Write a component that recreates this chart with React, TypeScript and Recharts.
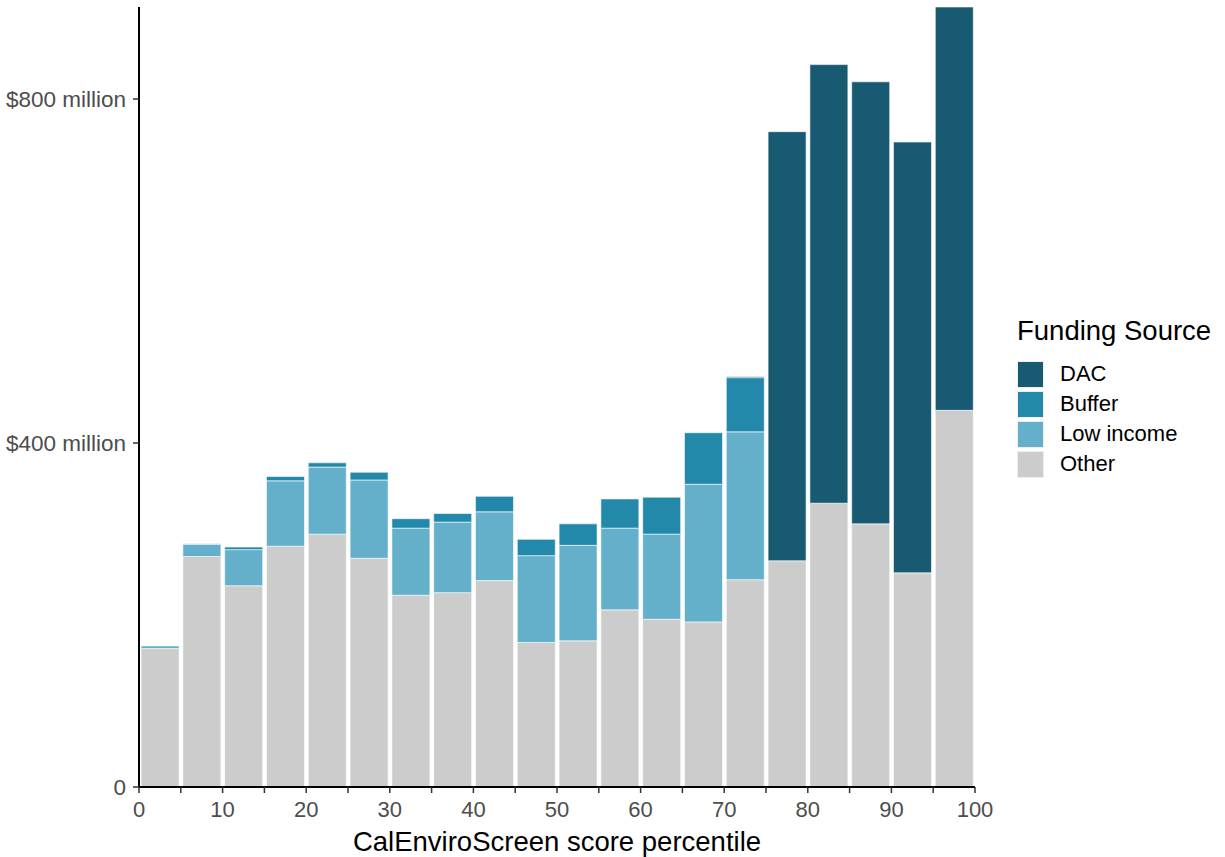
import { BarChart, Bar, XAxis, YAxis, Label } from 'recharts'

// percentile bins (start of each 5-point bin)
const binStarts = [0, 5, 10, 15, 20, 25, 30, 35, 40, 45, 50, 55, 60, 65, 70, 75, 80, 85, 90, 95]

// funding in $ millions
const other = [161, 268, 234, 280, 294, 266, 223, 226, 240, 168, 170, 206, 195, 192, 241, 263, 330, 306, 249, 438]
const lowIncome = [3, 14, 42, 76, 78, 91, 78, 82, 80, 101, 111, 95, 99, 160, 172, 0, 0, 0, 0, 0]
const buffer = [0, 1, 3, 5, 5, 9, 11, 10, 18, 19, 25, 34, 43, 60, 63, 0, 0, 0, 0, 0]
const dac = [0, 0, 0, 0, 0, 0, 0, 0, 0, 0, 0, 0, 0, 0, 1, 499, 510, 514, 501, 469]

const xTicks = [0, 5, 10, 15, 20, 25, 30, 35, 40, 45, 50, 55, 60, 65, 70, 75, 80, 85, 90, 95, 100]
const yTicks = [0, 400, 800]

const colors = {
  dac: '#175a71',
  buffer: '#2389ab',
  lowIncome: '#64afca',
  other: '#cccccc',
}

const legendItems = [
  { name: 'DAC', color: colors.dac },
  { name: 'Buffer', color: colors.buffer },
  { name: 'Low income', color: colors.lowIncome },
  { name: 'Other', color: colors.other },
]

const data = binStarts.map((s, i) => ({
  bin: s,
  other: other[i],
  lowIncome: lowIncome[i],
  buffer: buffer[i],
  dac: dac[i],
}))

const font = '"Liberation Sans", Arial, Helvetica, sans-serif'

const yFormat = (v: number) => (v === 0 ? '0' : `$${v} million`)

export default function App() {
  return (
    <div style={{ position: 'absolute', left: 0, top: 0, width: 1225, height: 857, fontFamily: font, background: '#fff' }}>
      <BarChart
        width={1225}
        height={857}
        data={data}
        margin={{ top: 7, right: 250, bottom: 0, left: 0 }}
        barCategoryGap="5%"
      >
        <XAxis xAxisId="cat" dataKey="bin" hide height={0} />
        <XAxis
          xAxisId="num"
          dataKey="bin"
          type="number"
          domain={[0, 100]}
          allowDataOverflow
          ticks={xTicks}
          interval={0}
          tickFormatter={(v: number) => (v % 10 === 0 ? String(v) : '')}
          height={70}
          tickSize={6}
          tickMargin={8}
          axisLine={{ stroke: '#000', strokeWidth: 2 }}
          tickLine={{ stroke: '#333', strokeWidth: 1.5 }}
          tick={{ fill: '#4d4d4d', fontSize: 22, fontFamily: font }}
        >
          <Label
            value="CalEnviroScreen score percentile"
            position="insideBottom"
            offset={6}
            style={{ fill: '#000', fontSize: 27.5, fontFamily: font }}
          />
        </XAxis>
        <YAxis
          width={139}
          domain={[0, 907]}
          allowDataOverflow
          ticks={yTicks}
          interval={0}
          tickFormatter={yFormat}
          tickSize={6}
          tickMargin={7}
          axisLine={{ stroke: '#000', strokeWidth: 2 }}
          tickLine={{ stroke: '#333', strokeWidth: 1.5 }}
          tick={{ fill: '#4d4d4d', fontSize: 22.5, fontFamily: font }}
        />
        <Bar xAxisId="cat" dataKey="other" stackId="a" fill={colors.other} stroke="#fff" strokeWidth={0.6} isAnimationActive={false} />
        <Bar xAxisId="cat" dataKey="lowIncome" stackId="a" fill={colors.lowIncome} stroke="#fff" strokeWidth={0.6} isAnimationActive={false} />
        <Bar xAxisId="cat" dataKey="buffer" stackId="a" fill={colors.buffer} stroke="#fff" strokeWidth={0.6} isAnimationActive={false} />
        <Bar xAxisId="cat" dataKey="dac" stackId="a" fill={colors.dac} stroke="#fff" strokeWidth={0.6} isAnimationActive={false} />
      </BarChart>

      <div style={{ position: 'absolute', left: 1017, top: 313, color: '#000' }}>
        <div style={{ fontSize: 27.5, lineHeight: '36px', marginBottom: 10, whiteSpace: 'nowrap' }}>Funding Source</div>
        {legendItems.map((it) => (
          <div key={it.name} style={{ display: 'flex', alignItems: 'center', height: 30 }}>
            <div style={{ width: 27, height: 27, background: it.color, border: '0.5px solid #eee', boxSizing: 'border-box' }} />
            <span style={{ marginLeft: 16, fontSize: 22, whiteSpace: 'nowrap' }}>{it.name}</span>
          </div>
        ))}
      </div>
    </div>
  )
}
